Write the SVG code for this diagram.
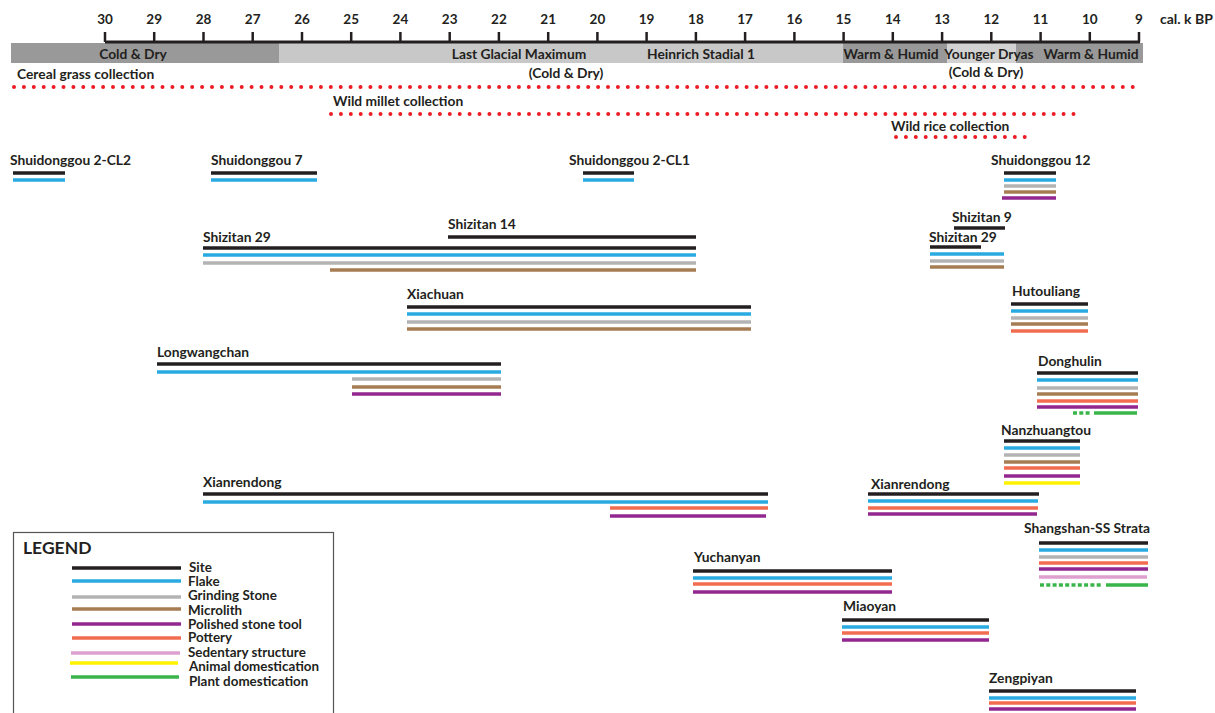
<svg xmlns="http://www.w3.org/2000/svg" width="1215" height="713" viewBox="0 0 1215 713">
<style>
text{font-family:Lato,"Open Sans","Liberation Sans",sans-serif;font-weight:700;fill:#231f20}
.lbl{font-size:13.8px}
.ax{font-size:13.5px;text-anchor:middle}
.band{font-size:13.8px;text-anchor:middle}
.leg{font-size:13.4px}
line.b{stroke-width:3.5}
.site{stroke:#231f20}.flake{stroke:#29abe2}.grind{stroke:#b3b3b3}.micro{stroke:#a67c52}.pol{stroke:#92278f}.pot{stroke:#f26d50}.sed{stroke:#dda0cf}.ani{stroke:#fff200}.pla{stroke:#39b54a}
.dash{stroke-dasharray:4 2.3}
.dots{stroke:#ec1c24;stroke-width:4;stroke-linecap:round;stroke-dasharray:0 9.9;fill:none}
.tick{stroke:#231f20;stroke-width:2.5}
</style>
<rect width="1215" height="713" fill="#ffffff"/>
<g id="climate">
<rect x="11" y="43" width="268" height="20" fill="#999999"/>
<rect x="279" y="43" width="564" height="20" fill="#c8c8c8"/>
<rect x="843" y="43" width="104" height="20" fill="#999999"/>
<rect x="947" y="43" width="69" height="20" fill="#d2d2d2"/>
<rect x="1016" y="43" width="127" height="20" fill="#999999"/>
<text class="band" x="133" y="58.5">Cold &amp; Dry</text>
<text class="band" x="519" y="58.5">Last Glacial Maximum</text>
<text class="band" x="701" y="58.5">Heinrich Stadial 1</text>
<text class="band" x="891" y="58.5">Warm &amp; Humid</text>
<text class="band" x="989" y="58.5">Younger Dryas</text>
<text class="band" x="1091" y="58.5">Warm &amp; Humid</text>
<text class="band" x="566" y="78">(Cold &amp; Dry)</text>
<text class="band" x="986" y="77">(Cold &amp; Dry)</text>
</g>
<g id="axis">
<line x1="105" y1="42" x2="1140" y2="42" stroke="#231f20" stroke-width="3"/>
<g class="tick">
<line x1="105" y1="32" x2="105" y2="42"/><line x1="154.2" y1="32" x2="154.2" y2="42"/><line x1="203.5" y1="32" x2="203.5" y2="42"/><line x1="252.7" y1="32" x2="252.7" y2="42"/><line x1="302" y1="32" x2="302" y2="42"/><line x1="351.2" y1="32" x2="351.2" y2="42"/><line x1="400.4" y1="32" x2="400.4" y2="42"/><line x1="449.7" y1="32" x2="449.7" y2="42"/><line x1="498.9" y1="32" x2="498.9" y2="42"/><line x1="548.2" y1="32" x2="548.2" y2="42"/><line x1="597.4" y1="32" x2="597.4" y2="42"/><line x1="646.6" y1="32" x2="646.6" y2="42"/><line x1="695.9" y1="32" x2="695.9" y2="42"/><line x1="745.1" y1="32" x2="745.1" y2="42"/><line x1="794.4" y1="32" x2="794.4" y2="42"/><line x1="843.6" y1="32" x2="843.6" y2="42"/><line x1="892.8" y1="32" x2="892.8" y2="42"/><line x1="942.1" y1="32" x2="942.1" y2="42"/><line x1="991.3" y1="32" x2="991.3" y2="42"/><line x1="1040.6" y1="32" x2="1040.6" y2="42"/><line x1="1089.8" y1="32" x2="1089.8" y2="42"/><line x1="1139" y1="32" x2="1139" y2="42"/>
</g>
<text class="ax" x="105" y="23.5">30</text><text class="ax" x="154.2" y="23.5">29</text><text class="ax" x="203.5" y="23.5">28</text><text class="ax" x="252.7" y="23.5">27</text><text class="ax" x="302" y="23.5">26</text><text class="ax" x="351.2" y="23.5">25</text><text class="ax" x="400.4" y="23.5">24</text><text class="ax" x="449.7" y="23.5">23</text><text class="ax" x="498.9" y="23.5">22</text><text class="ax" x="548.2" y="23.5">21</text><text class="ax" x="597.4" y="23.5">20</text><text class="ax" x="646.6" y="23.5">19</text><text class="ax" x="695.9" y="23.5">18</text><text class="ax" x="745.1" y="23.5">17</text><text class="ax" x="794.4" y="23.5">16</text><text class="ax" x="843.6" y="23.5">15</text><text class="ax" x="892.8" y="23.5">14</text><text class="ax" x="942.1" y="23.5">13</text><text class="ax" x="991.3" y="23.5">12</text><text class="ax" x="1040.6" y="23.5">11</text><text class="ax" x="1089.8" y="23.5">10</text><text class="ax" x="1139" y="23.5">9</text>
<text x="1160" y="24" font-size="14">cal. k BP</text>
</g>
<g id="collections">
<text class="lbl" x="17" y="78.5">Cereal grass collection</text>
<line class="dots" x1="14" y1="87" x2="1137" y2="87"/>
<text class="lbl" x="333" y="106">Wild millet collection</text>
<line class="dots" x1="331" y1="114" x2="1078" y2="114"/>
<text class="lbl" x="891" y="130.5">Wild rice collection</text>
<line class="dots" x1="896" y1="137" x2="1032" y2="137"/>
</g>
<g id="connectors"></g>
<g id="shuidonggou-2-cl2">
<text class="lbl" x="10" y="165">Shuidonggou 2-CL2</text>
<line class="b site" x1="13" y1="173" x2="65" y2="173"/>
<line class="b flake" x1="13" y1="180" x2="65" y2="180"/>
</g>
<g id="shuidonggou-7">
<text class="lbl" x="211" y="165">Shuidonggou 7</text>
<line class="b site" x1="211" y1="173" x2="317" y2="173"/>
<line class="b flake" x1="211" y1="180" x2="317" y2="180"/>
</g>
<g id="shuidonggou-2-cl1">
<text class="lbl" x="569" y="165">Shuidonggou 2-CL1</text>
<line class="b site" x1="583" y1="173" x2="634" y2="173"/>
<line class="b flake" x1="583" y1="180" x2="634" y2="180"/>
</g>
<g id="shuidonggou-12">
<text class="lbl" x="991" y="165">Shuidonggou 12</text>
<line class="b site" x1="1004" y1="173" x2="1056" y2="173"/>
<line class="b flake" x1="1004" y1="180" x2="1056" y2="180"/>
<line class="b grind" x1="1004" y1="186" x2="1056" y2="186"/>
<line class="b micro" x1="1004" y1="192" x2="1056" y2="192"/>
<line class="b pol" x1="1002" y1="198" x2="1056" y2="198"/>
</g>
<g id="shizitan-14">
<text class="lbl" x="448" y="229">Shizitan 14</text>
<line class="b site" x1="448" y1="237" x2="696" y2="237"/>
</g>
<g id="shizitan-29">
<text class="lbl" x="203" y="242">Shizitan 29</text>
<line class="b site" x1="203" y1="248" x2="696" y2="248"/>
<line class="b flake" x1="203" y1="255" x2="696" y2="255"/>
<line class="b grind" x1="203" y1="263" x2="696" y2="263"/>
<line class="b micro" x1="330" y1="270" x2="696" y2="270"/>
</g>
<g id="shizitan-9">
<text class="lbl" x="952" y="222">Shizitan 9</text>
<line class="b site" x1="954" y1="228" x2="1005" y2="228"/>
</g>
<g id="shizitan-29-late">
<text class="lbl" x="929" y="242">Shizitan 29</text>
<line class="b site" x1="930" y1="247" x2="981" y2="247"/>
<line class="b flake" x1="930" y1="254" x2="1004" y2="254"/>
<line class="b grind" x1="930" y1="261" x2="1004" y2="261"/>
<line class="b micro" x1="930" y1="267" x2="1004" y2="267"/>
</g>
<g id="hutouliang">
<text class="lbl" x="1012" y="296">Hutouliang</text>
<line class="b site" x1="1011" y1="304" x2="1088" y2="304"/>
<line class="b flake" x1="1011" y1="311" x2="1088" y2="311"/>
<line class="b grind" x1="1011" y1="318" x2="1088" y2="318"/>
<line class="b micro" x1="1011" y1="324" x2="1088" y2="324"/>
<line class="b pot" x1="1011" y1="331" x2="1088" y2="331"/>
</g>
<g id="xiachuan">
<text class="lbl" x="407" y="299">Xiachuan</text>
<line class="b site" x1="407" y1="307" x2="751" y2="307"/>
<line class="b flake" x1="407" y1="314" x2="751" y2="314"/>
<line class="b grind" x1="407" y1="322" x2="751" y2="322"/>
<line class="b micro" x1="407" y1="329" x2="751" y2="329"/>
</g>
<g id="longwangchan">
<text class="lbl" x="157" y="357">Longwangchan</text>
<line class="b site" x1="157" y1="364" x2="501" y2="364"/>
<line class="b flake" x1="157" y1="372" x2="501" y2="372"/>
<line class="b grind" x1="352" y1="379" x2="501" y2="379"/>
<line class="b micro" x1="352" y1="387" x2="501" y2="387"/>
<line class="b pol" x1="352" y1="394" x2="501" y2="394"/>
</g>
<g id="donghulin">
<text class="lbl" x="1038" y="366">Donghulin</text>
<line class="b site" x1="1037" y1="373" x2="1138" y2="373"/>
<line class="b flake" x1="1037" y1="380" x2="1138" y2="380"/>
<line class="b grind" x1="1037" y1="388" x2="1138" y2="388"/>
<line class="b micro" x1="1037" y1="394" x2="1138" y2="394"/>
<line class="b pot" x1="1037" y1="401" x2="1138" y2="401"/>
<line class="b pol" x1="1037" y1="407" x2="1138" y2="407"/>
<line class="b pla dash" x1="1073" y1="413" x2="1091" y2="413"/>
<line class="b pla" x1="1094" y1="413" x2="1137" y2="413"/>
</g>
<g id="nanzhuangtou">
<text class="lbl" x="1001" y="435">Nanzhuangtou</text>
<line class="b site" x1="1004" y1="441" x2="1080" y2="441"/>
<line class="b flake" x1="1004" y1="448" x2="1080" y2="448"/>
<line class="b grind" x1="1004" y1="455" x2="1080" y2="455"/>
<line class="b micro" x1="1004" y1="462" x2="1080" y2="462"/>
<line class="b pot" x1="1004" y1="468" x2="1080" y2="468"/>
<line class="b pol" x1="1004" y1="476" x2="1080" y2="476"/>
<line class="b ani" x1="1004" y1="483" x2="1080" y2="483"/>
</g>
<g id="xianrendong-late">
<text class="lbl" x="871" y="489">Xianrendong</text>
<line class="b site" x1="868" y1="494" x2="1039" y2="494"/>
<line class="b flake" x1="868" y1="501" x2="1038" y2="501"/>
<line class="b pot" x1="868" y1="508" x2="1038" y2="508"/>
<line class="b pol" x1="868" y1="514" x2="1037" y2="514"/>
</g>
<g id="xianrendong">
<text class="lbl" x="203" y="487">Xianrendong</text>
<line class="b site" x1="203" y1="494" x2="768" y2="494"/>
<line class="b flake" x1="203" y1="502" x2="768" y2="502"/>
<line class="b pot" x1="610" y1="508" x2="768" y2="508"/>
<line class="b pol" x1="610" y1="516" x2="766" y2="516"/>
</g>
<g id="shangshan">
<text class="lbl" x="1024" y="533">Shangshan-SS Strata</text>
<line class="b site" x1="1039" y1="543" x2="1148" y2="543"/>
<line class="b flake" x1="1039" y1="550" x2="1148" y2="550"/>
<line class="b grind" x1="1039" y1="557" x2="1148" y2="557"/>
<line class="b pot" x1="1039" y1="563" x2="1148" y2="563"/>
<line class="b pol" x1="1039" y1="569" x2="1148" y2="569"/>
<line class="b sed" x1="1039" y1="577" x2="1147" y2="577"/>
<line class="b pla dash" x1="1040" y1="585" x2="1102" y2="585"/>
<line class="b pla" x1="1106" y1="585" x2="1148" y2="585"/>
</g>
<g id="yuchanyan">
<text class="lbl" x="694" y="562">Yuchanyan</text>
<line class="b site" x1="693" y1="571" x2="892" y2="571"/>
<line class="b flake" x1="693" y1="578" x2="892" y2="578"/>
<line class="b pot" x1="693" y1="584" x2="892" y2="584"/>
<line class="b pol" x1="693" y1="592" x2="892" y2="592"/>
</g>
<g id="miaoyan">
<text class="lbl" x="843" y="611">Miaoyan</text>
<line class="b site" x1="842" y1="620" x2="989" y2="620"/>
<line class="b flake" x1="842" y1="627" x2="989" y2="627"/>
<line class="b pot" x1="842" y1="633" x2="989" y2="633"/>
<line class="b pol" x1="842" y1="640" x2="989" y2="640"/>
</g>
<g id="zengpiyan">
<text class="lbl" x="989" y="683">Zengpiyan</text>
<line class="b site" x1="989" y1="691" x2="1136" y2="691"/>
<line class="b flake" x1="989" y1="698" x2="1136" y2="698"/>
<line class="b pot" x1="989" y1="703" x2="1136" y2="703"/>
<line class="b pol" x1="989" y1="709" x2="1136" y2="709"/>
</g>
<g id="legend">
<rect x="13.5" y="532.5" width="320" height="200" fill="none" stroke="#555555" stroke-width="1.2"/>
<text x="23" y="553.5" font-size="17.5">LEGEND</text>
<line class="b site" x1="72" y1="568" x2="181" y2="568"/>
<line class="b flake" x1="72" y1="581" x2="181" y2="581"/>
<line class="b grind" x1="72" y1="597" x2="181" y2="597"/>
<line class="b micro" x1="72" y1="609" x2="181" y2="609"/>
<line class="b pol" x1="72" y1="624" x2="181" y2="624"/>
<line class="b pot" x1="72" y1="638" x2="181" y2="638"/>
<line class="b sed" x1="71" y1="653" x2="180" y2="653"/>
<line class="b ani" x1="70" y1="663" x2="178" y2="663"/>
<line class="b pla" x1="71" y1="677" x2="179" y2="677"/>
<text class="leg" x="189" y="571.5">Site</text>
<text class="leg" x="188" y="585.5">Flake</text>
<text class="leg" x="188" y="600">Grinding Stone</text>
<text class="leg" x="188" y="614.5">Microlith</text>
<text class="leg" x="188" y="628.5">Polished stone tool</text>
<text class="leg" x="188" y="642">Pottery</text>
<text class="leg" x="188" y="656.5">Sedentary structure</text>
<text class="leg" x="189" y="671">Animal domestication</text>
<text class="leg" x="189" y="685.5">Plant domestication</text>
</g>
</svg>
